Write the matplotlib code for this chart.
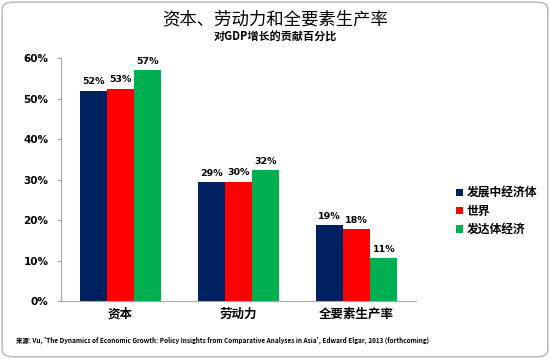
import matplotlib
matplotlib.use("Agg")
import matplotlib.pyplot as plt
import numpy as np
from matplotlib.patches import FancyBboxPatch
from matplotlib.ticker import FuncFormatter

plt.rcParams['font.family'] = ['Noto Sans CJK SC', 'DejaVu Sans']

categories = ["资本", "劳动力", "全要素生产率"]
series_names = ["发展中经济体", "世界", "发达体经济"]
developing = [52.0, 29.3, 18.8]
world = [52.5, 29.5, 17.8]
developed = [57.0, 32.3, 10.6]
label_dev = ["52%", "29%", "19%"]
label_world = ["53%", "30%", "18%"]
label_advd = ["57%", "32%", "11%"]
colors = ["#002060", "#FF0000", "#00B050"]

fig = plt.figure(figsize=(5.5, 3.59), dpi=100)
border = FancyBboxPatch((0.004, 0.006), 0.992, 0.988, boxstyle="round,pad=0,rounding_size=0.02",
                        transform=fig.transFigure, facecolor="none", edgecolor="#BFBFBF",
                        linewidth=1.2, zorder=-1)
fig.patches.append(border)

ax = fig.add_axes([0.111, 0.1616, 0.645, 0.6764])
ax.set_facecolor("none")
x = np.arange(len(categories))
w = 0.229
series = [developing, world, developed]
labels = [label_dev, label_world, label_advd]
for i, (vals, lab, c, name) in enumerate(zip(series, labels, colors, series_names)):
    bars = ax.bar(x + (i - 1) * w, vals, width=w, color=c, label=name)
    ax.bar_label(bars, labels=lab, padding=3, fontsize=6.8, fontweight='bold', family=['DejaVu Sans'])

ax.set_xlim(-0.5, 2.5)
ax.set_ylim(0, 60)
ax.set_yticks(range(0, 61, 10))
ax.yaxis.set_major_formatter(FuncFormatter(lambda v, p: f"{int(v)}%"))
ax.set_xticks(x)
ax.set_xticklabels(categories, fontsize=9, fontweight='bold')
ax.tick_params(axis='x', length=0, pad=5)
ax.tick_params(axis='y', length=3, color="#A6A6A6", labelsize=7.5, pad=6)
for t in ax.get_yticklabels():
    t.set_fontweight('bold')
    t.set_family(['DejaVu Sans'])
for s in ["top", "right"]:
    ax.spines[s].set_visible(False)
for s in ["left", "bottom"]:
    ax.spines[s].set_color("#A6A6A6")

leg = fig.legend(loc="upper left", bbox_to_anchor=(0.81, 0.51), frameon=False, fontsize=8.5,
                 handlelength=0.6, handleheight=0.6, handletextpad=0.3, labelspacing=0.45)
for t in leg.get_texts():
    t.set_fontweight('bold')

fig.text(0.5, 0.945, "资本、劳动力和全要素生产率", ha="center", va="center", fontsize=12.5)
fig.text(0.5, 0.897, "对GDP增长的贡献百分比", ha="center", va="center", fontsize=8, fontweight='bold')
fig.text(0.03, 0.052, "来源: Vu, 'The Dynamics of Economic Growth: Policy Insights from Comparative Analyses in Asia', Edward Elgar, 2013 (forthcoming)",
         ha="left", va="center", fontsize=4.6, fontweight='bold')

fig.savefig("out.png", dpi=100)
